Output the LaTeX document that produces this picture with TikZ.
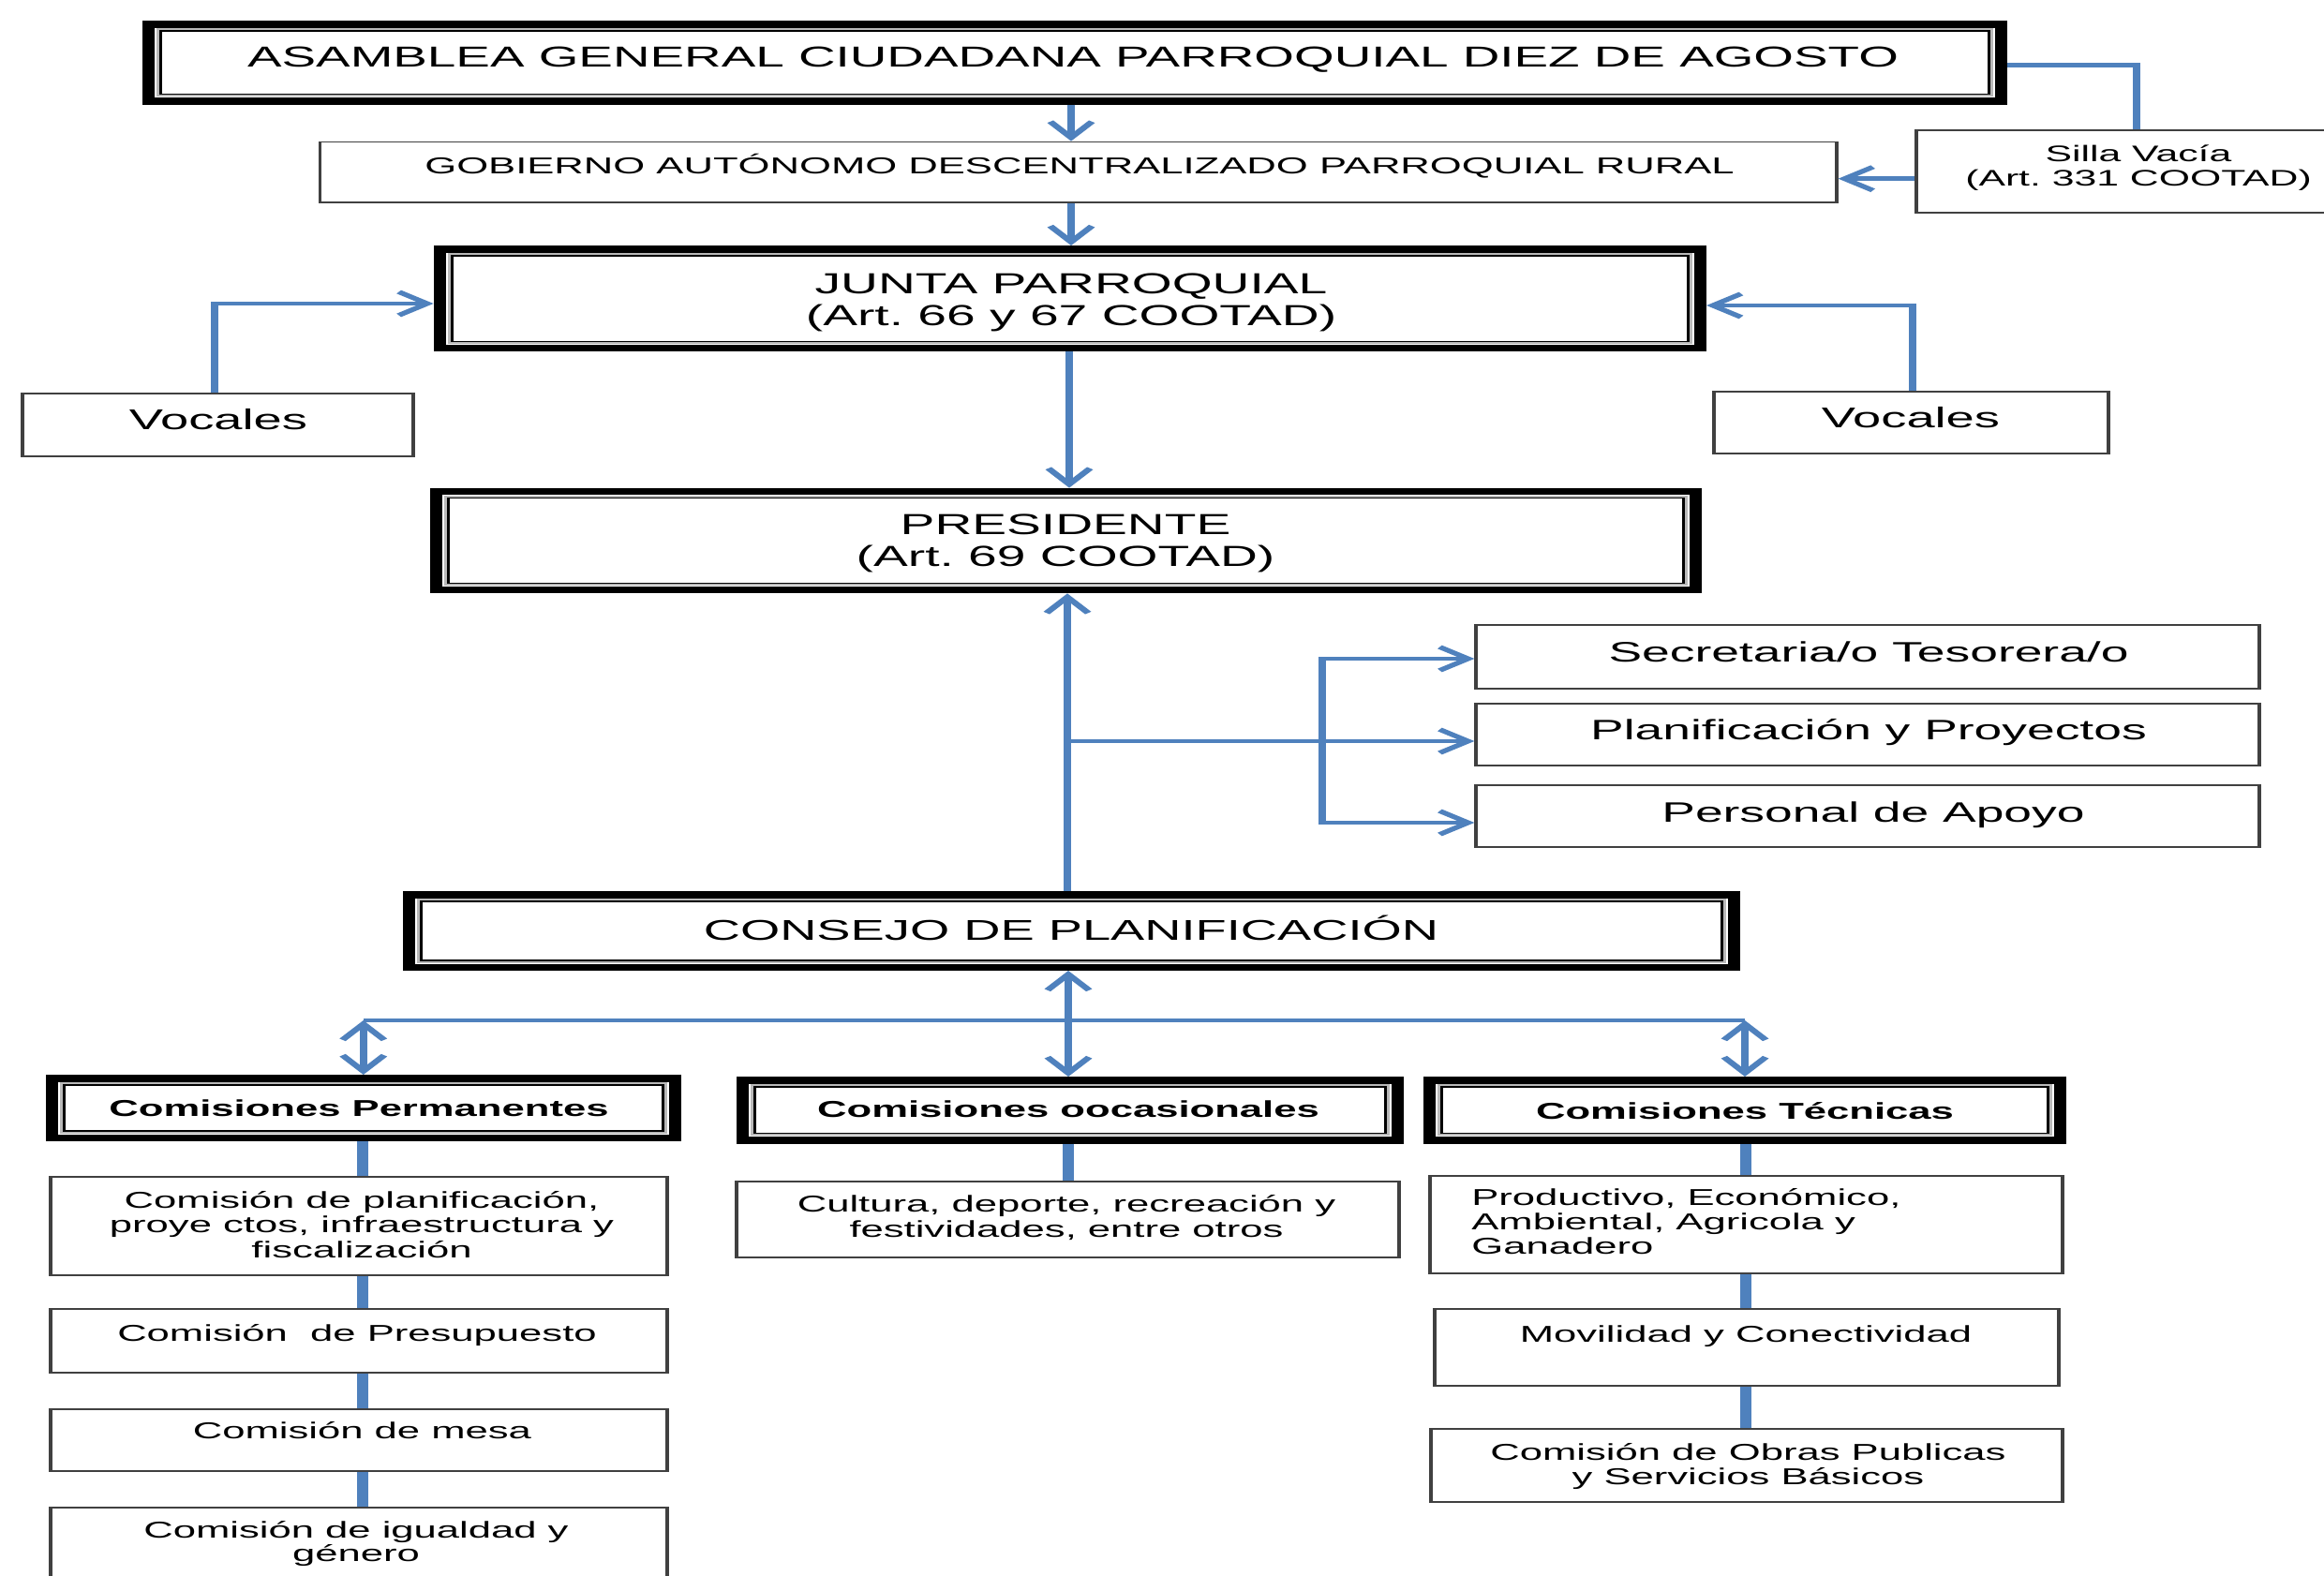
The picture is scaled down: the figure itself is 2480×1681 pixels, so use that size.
\documentclass[tikz,border=0pt]{standalone}
\usepackage{fontspec}
\setmainfont{Liberation Sans}
\usetikzlibrary{fit,arrows.meta,calc}
\definecolor{lnk}{RGB}{79,129,189}
\newcommand\mlc[1]{\begin{tabular}[t]{@{}c@{}}#1\end{tabular}}
\newcommand\mll[1]{\begin{tabular}[t]{@{}l@{}}#1\end{tabular}}
\frenchspacing
\tikzset{
  dbox/.style={draw=black, line width=7.5pt, fill=white, inner sep=0pt,
    path picture={
      \draw[gray!55, line width=1.8pt]
        ([shift={(5.6pt,-5.6pt)}]path picture bounding box.north west) rectangle
        ([shift={(-5.6pt,5.6pt)}]path picture bounding box.south east);
      \draw[black, line width=1.6pt]
        ([shift={(7.3pt,-7.3pt)}]path picture bounding box.north west) rectangle
        ([shift={(-7.3pt,7.3pt)}]path picture bounding box.south east);
    }},
  tbox/.style={draw=black!75, line width=1.8pt, fill=white, inner sep=0pt},
  txt/.style={inner sep=0pt, anchor=base, text=black},
  ln/.style={draw=lnk, line width=4.5pt, line join=miter},
  arr/.style={ln, -{Straight Barb[length=17pt,width=25pt]}},
  dar/.style={ln, {Straight Barb[length=17pt,width=25pt]}-{Straight Barb[length=17pt,width=25pt]}},
  sub/.style={draw=lnk, line width=6.5pt},
}
\begin{document}
\frenchspacing
\begin{tikzpicture}[x=1pt,y=-1pt]
\fill[white] (0,0) rectangle (2480,1681);
\useasboundingbox (0,0) rectangle (2480,1681);
\begin{scope}[x=0.561798pt, y=-1pt, transform canvas={xscale=1.78}]
% ---------- boxes ----------
\node[dbox, fit={(158.7,25.75) (2135.3,107.75)}] (asam) {};
\node[txt, font=\fontsize{30.8}{34}\selectfont] (asamT) at (1145,71.5) {ASAMBLEA GENERAL CIUDADANA PARROQUIAL DIEZ DE AGOSTO};

\node[tbox, fit={(341.6,151.5) (1960,216)}] (gob) {};
\node[txt, font=\fontsize{24.5}{27}\selectfont] (gobT) at (1152,185) {GOBIERNO AUTÓNOMO DESCENTRALIZADO PARROQUIAL RURAL};

\node[tbox, fit={(2045,139) (2515,227)}] (silla) {};
\node[txt, font=\fontsize{24}{26}\selectfont] (sillaT) at (2282,172.5) {\mlc{Silla Vacía\\(Art. 331 COOTAD)}};

\node[dbox, fit={(469.3,265.75) (1814.3,371.65)}] (junta) {};
\node[txt, font=\fontsize{31}{33.5}\selectfont] (juntaT) at (1143,313.5) {\mlc{JUNTA PARROQUIAL\\(Art. 66 y 67 COOTAD)}};

\node[tbox, fit={(24,419.6) (441,487)}] (vocL) {};
\node[txt, font=\fontsize{30.5}{33}\selectfont] (vocLT) at (233,458.8) {Vocales};
\node[tbox, fit={(1829,418) (2250,484)}] (vocR) {};
\node[txt, font=\fontsize{30.5}{33}\selectfont] (vocRT) at (2039,456.6) {Vocales};

\node[dbox, fit={(465.4,524.35) (1809.3,629.65)}] (pres) {};
\node[txt, font=\fontsize{31}{34}\selectfont] (presT) at (1137,570) {\mlc{PRESIDENTE\\(Art. 69 COOTAD)}};

\node[tbox, fit={(1575,667) (2411,735)}] (secr) {};
\node[txt, font=\fontsize{30}{33}\selectfont] (secrT) at (1994,706) {Secretaria/o Tesorera/o};
\node[tbox, fit={(1575,751) (2411,817)}] (plan) {};
\node[txt, font=\fontsize{30}{33}\selectfont] (planT) at (1994,789) {Planificación y Proyectos};
\node[tbox, fit={(1575,838) (2411,904)}] (pers) {};
\node[txt, font=\fontsize{30}{33}\selectfont] (persT) at (1999,877.7) {Personal de Apoyo};

\node[dbox, fit={(436.7,954.75) (1850.3,1032.25)}] (cons) {};
\node[txt, font=\fontsize{30.5}{33}\selectfont] (consT) at (1143,1003) {CONSEJO DE PLANIFICACIÓN};

\node[dbox, fit={(55.2,1150.75) (720.3,1214.25)}] (perm) {};
\node[txt, font=\fontsize{24.5}{27}\selectfont\bfseries] (permT) at (383,1191.5) {Comisiones Permanentes};
\node[dbox, fit={(792.7,1152.75) (1491.3,1216.85)}] (ocas) {};
\node[txt, font=\fontsize{24.5}{27}\selectfont\bfseries] (ocasT) at (1140,1192.6) {Comisiones oocasionales};
\node[dbox, fit={(1525.7,1152.75) (2198.3,1216.85)}] (tec) {};
\node[txt, font=\fontsize{24.5}{27}\selectfont\bfseries] (tecT) at (1862,1194) {Comisiones Técnicas};

% permanent column
\node[tbox, fit={(54,1256) (712,1361)}] (pa) {};
\node[txt, font=\fontsize{24.5}{26.5}\selectfont] (paT) at (386,1289) {\mlc{Comisión de planificación,\\proye ctos, infraestructura y\\fiscalización}};
\node[tbox, fit={(54,1397) (712,1465)}] (pb) {};
\node[txt, font=\fontsize{24.5}{26.5}\selectfont] (pbT) at (381,1431.5) {Comisión\ \ de Presupuesto};
\node[tbox, fit={(54,1504) (712,1570)}] (pc) {};
\node[txt, font=\fontsize{24.5}{26.5}\selectfont] (pcT) at (386.5,1535.4) {Comisión de mesa};
\node[tbox, fit={(54,1609) (712,1720)}] (pd) {};
\node[txt, font=\fontsize{24.5}{25}\selectfont] (pdT) at (380,1641) {\mlc{Comisión de igualdad y\\género}};

% occasional column
\node[tbox, fit={(786,1261) (1493,1342)}] (oa) {};
\node[txt, font=\fontsize{24.5}{27}\selectfont] (oaT) at (1138,1293) {\mlc{Cultura, deporte, recreación y\\festividades, entre otros}};

% technical column
\node[tbox, fit={(1526,1255) (2201,1359)}] (ta) {};
\node[txt, anchor=base west, font=\fontsize{24.5}{26}\selectfont] (taT) at (1570,1286.5) {\mll{Productivo, Económico,\\Ambiental, Agricola y\\Ganadero}};
\node[tbox, fit={(1531,1397) (2197,1479)}] (tb) {};
\node[txt, font=\fontsize{24.5}{26.5}\selectfont] (tbT) at (1863,1432.6) {Movilidad y Conectividad};
\node[tbox, fit={(1527,1525) (2201,1603)}] (tc) {};
\node[txt, font=\fontsize{24.5}{26.5}\selectfont] (tcT) at (1865.5,1558) {\mlc{Comisión de Obras Publicas\\y Servicios Básicos}};

% ---------- connectors ----------
\coordinate (mx) at (1143,0);
\coordinate (mx2) at (1141,0);
\coordinate (mx3) at (1139,0);
\coordinate (mx4) at (1140,0);
\draw[arr] (asam.south -| mx) -- (gob.north -| mx);
\draw[arr] (gob.south -| mx) -- (junta.north -| mx);
\draw[arr] (junta.south -| mx2) -- (pres.north -| mx2);
\draw[arr] (cons.north -| mx3) -- (pres.south -| mx3);

\coordinate (sa) at (0,69.4);
\draw[ln] (asam.east |- sa) -| (silla.north);
\coordinate (sg) at (0,190.7);
\draw[arr] (silla.west |- sg) -- (gob.east |- sg);

\coordinate (vl) at (229,324);
\draw[arr] (vocL.north -| vl) |- (junta.west |- vl);
\coordinate (vr) at (2041,326);
\draw[arr] (vocR.north -| vr) |- (junta.east |- vr);

\coordinate (br) at (1411,791);
\coordinate (s1) at (0,703);
\coordinate (s3) at (0,878);
\draw[ln] (mx3 |- br) -- (br);
\draw[arr] (br) |- (secr.west |- s1);
\draw[arr] (br) -- (plan.west |- br);
\draw[arr] (br) |- (pers.west |- s3);

\draw[dar] (cons.south -| mx4) -- (ocas.north -| mx4);
\coordinate (hl) at (388,1089);
\coordinate (hr) at (1862,1089);
\draw[ln] (hl) -- (hr);
\draw[dar] (perm.north |- hl) -- (perm.north);
\draw[dar] (tec.north |- hr) -- (tec.north);

\coordinate (px) at (387,0);
\draw[sub] (perm.south -| px) -- (pa.north -| px);
\draw[sub] (pa.south -| px) -- (pb.north -| px);
\draw[sub] (pb.south -| px) -- (pc.north -| px);
\draw[sub] (pc.south -| px) -- (pd.north -| px);
\draw[sub] (ocas.south -| mx4) -- (oa.north -| mx4);
\coordinate (tx) at (1863,0);
\draw[sub] (tec.south -| tx) -- (ta.north -| tx);
\draw[sub] (ta.south -| tx) -- (tb.north -| tx);
\draw[sub] (tb.south -| tx) -- (tc.north -| tx);
\end{scope}
\end{tikzpicture}
\end{document}
